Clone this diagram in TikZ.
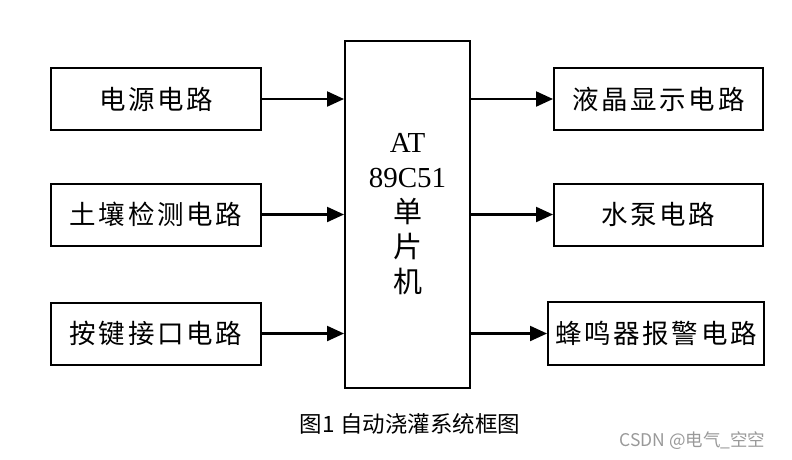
\documentclass[tikz,border=0pt]{standalone}
\usepackage{fontspec}
\setmainfont{Liberation Serif}
\newfontfamily\cjk{Noto Sans CJK SC}
\newfontfamily\cjksp[LetterSpace=10]{Noto Sans CJK SC}
\usetikzlibrary{arrows.meta}
\begin{document}
\begin{tikzpicture}[x=1pt,y=-1pt,
  blk/.style={draw, line width=2pt, inner sep=0pt, minimum height=62pt,
    font=\cjksp\fontsize{26.5}{30}\selectfont},
  arr/.style={-{Triangle[length=17pt,width=15pt]}, line width=2.2pt}]
\useasboundingbox (0,0) rectangle (792,459);
% left blocks
\node[blk, minimum width=210pt] (pw) at (156,99) {电源电路};
\node[blk, minimum width=210pt] (soil) at (156,214.5) {土壤检测电路};
\node[blk, minimum width=210pt] (key) at (156,333.5) {按键接口电路};
% MCU
\node[draw, line width=2pt, minimum width=125pt, minimum height=347pt, inner sep=0pt] (mcu) at (407.5,214.5) {};
\node[align=center, font=\fontsize{29}{35}\selectfont] (mcut) at (mcu.center) {AT\\89C51\\{\cjk 单}\\{\cjk 片}\\{\cjk 机}};
% right blocks
\node[blk, minimum width=209pt] (lcd) at (658.5,99) {液晶显示电路};
\node[blk, minimum width=209pt] (pump) at (658.5,214.5) {水泵电路};
\node[blk, minimum width=216pt, minimum height=63pt] (bz) at (656,333.5) {蜂鸣器报警电路};
% arrows
\draw[arr] (pw.east) -- (mcu.west |- pw.east);
\draw[arr] (soil.east) -- (mcu.west |- soil.east);
\draw[arr] (key.east) -- (mcu.west |- key.east);
\draw[arr] (mcu.east |- lcd.west) -- (lcd.west);
\draw[arr] (mcu.east |- pump.west) -- (pump.west);
\draw[arr] (mcu.east |- bz.west) -- (bz.west);
% caption
\node[font=\cjk\fontsize{22.5}{26}\selectfont] (cap) at (410,424) {图1 自动浇灌系统框图};
\node[font=\cjk\fontsize{17.5}{20}\selectfont, text=black!40, anchor=east] (wm) at (769,441) {CSDN @电气\_空空};
\end{tikzpicture}
\end{document}
